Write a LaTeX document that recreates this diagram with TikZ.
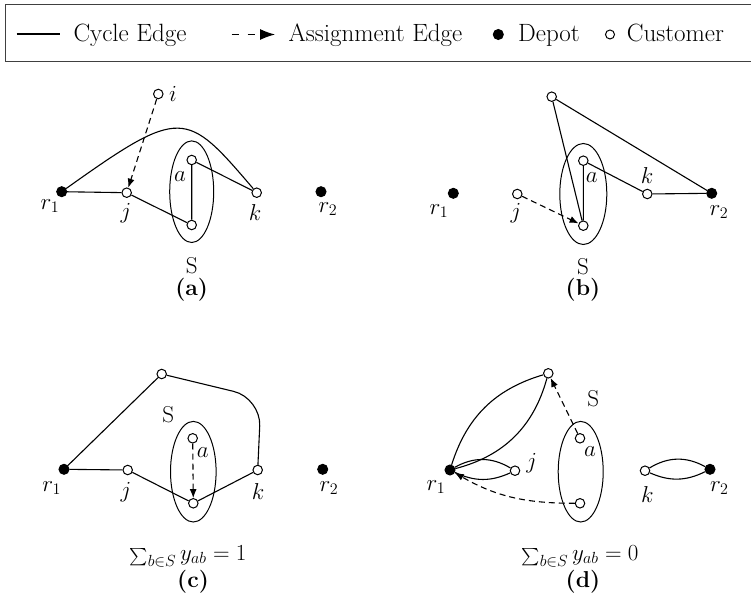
\documentclass[tikz,border=0pt]{standalone}
\usepackage{fix-cm}
\usepackage{amsmath}
\usetikzlibrary{arrows.meta,shapes.geometric}
\newcommand{\smallsum}{\mathop{\raisebox{-1.5pt}{\fontsize{19}{19}\selectfont$\sum$}}\nolimits}
\begin{document}
\begin{tikzpicture}[x=1pt,y=1pt,
  cust/.style={circle,draw,fill=white,line width=1pt,inner sep=0pt,minimum size=9.5pt},
  dep/.style={circle,draw,fill=black,line width=1pt,inner sep=0pt,minimum size=10pt},
  edge/.style={line width=1.1pt},
  asg/.style={line width=1.1pt,dash pattern=on 6pt off 4pt,-{Latex[length=9pt,width=7pt]}},
  grp/.style={ellipse,draw,line width=1pt,inner sep=0pt},
  lab/.style={font=\fontsize{23}{27}\selectfont,inner sep=0pt},
  captxt/.style={font=\fontsize{23}{27}\selectfont\bfseries,inner sep=0pt},
  leg/.style={font=\fontsize{25}{29}\selectfont,inner sep=0pt,anchor=base west},
]
\useasboundingbox (0,0) rectangle (751,605);
% ---------- legend ----------
\draw[line width=1pt,black!75] (5,543) rectangle (790,600);
\coordinate (l1a) at (16.7,571);
\coordinate (l1b) at (60,571);
\draw[edge] (l1a) -- (l1b);
\node[leg] (lt1) at (73.3,563.8) {Cycle Edge};
\coordinate (l2a) at (231.7,570.5);
\coordinate (l2b) at (275,570.5);
\draw[line width=1.1pt,dash pattern=on 7pt off 9pt,-{Latex[length=15pt,width=11pt]}] (l2a) -- (l2b);
\node[leg] (lt2) at (288.3,563.8) {Assignment Edge};
\node[dep,minimum size=10pt] (ldep) at (498.3,570.5) {};
\node[leg] (lt3) at (518,563.8) {Depot};
\node[cust,minimum size=9pt] (lcus) at (610,570.5) {};
\node[leg] (lt4) at (626.7,563.8) {Customer};

% ---------- panel (a) ----------
\node[grp,minimum width=44pt,minimum height=101.6pt] (Sa) at (191.7,413.3) {};
\node[dep] (ar1) at (61.7,413.3) {};
\node[cust] (aj) at (126.7,412.3) {};
\node[cust] (ai) at (158.3,511) {};
\node[cust] (aa) at (191.7,445) {};
\node[cust] (ab) at (191.7,380) {};
\node[cust] (ak) at (256.7,412.3) {};
\node[dep] (ar2) at (321,413.3) {};
\draw[edge] (ar1) -- (aj) -- (ab) -- (aa) -- (ak);
\draw[edge] (ar1) .. controls (182,499) and (186,495) .. (ak);
\draw[asg] (ai) -- (aj);
\node[lab] (lar1) at (50,399) {$r_1$};
\node[lab] (laj) at (126,392) {$j$};
\node[lab] (laa) at (180,428) {$a$};
\node[lab] (lak) at (255,392) {$k$};
\node[lab] (lar2) at (328,396) {$r_2$};
\node[lab] (lai) at (173,511) {$i$};
\node[lab] (laS) at (191.7,339) {S};
\node[captxt] (lacap) at (191.7,315) {(a)};

% ---------- panel (b) ----------
\node[grp,minimum width=47pt,minimum height=101pt] (Sb) at (583.3,411) {};
\node[dep] (br1) at (453.3,411.7) {};
\node[cust] (bj) at (517.3,411) {};
\node[cust] (bt) at (551.7,508.3) {};
\node[cust] (ba) at (583.3,444.3) {};
\node[cust] (bb) at (583.3,379.3) {};
\node[cust] (bk) at (647.3,411) {};
\node[dep] (br2) at (711.7,411.7) {};
\draw[edge] (bb) -- (bt) -- (br2) -- (bk) -- (ba) -- (bb);
\draw[asg] (bj) -- (bb);
\node[lab] (lbr1) at (439,394) {$r_1$};
\node[lab] (lbj) at (516,392) {$j$};
\node[lab] (lba) at (591.7,427) {$a$};
\node[lab] (lbk) at (647,429) {$k$};
\node[lab] (lbr2) at (719,393) {$r_2$};
\node[lab] (lbS) at (583,338) {S};
\node[captxt] (lbcap) at (583,315) {(b)};

% ---------- panel (c) ----------
\node[grp,minimum width=45.6pt,minimum height=100.6pt] (Sc) at (193.3,133.3) {};
\node[cust] (ct) at (161.7,231) {};
\node[dep] (cr1) at (64,135.7) {};
\node[cust] (cj) at (127.7,135) {};
\node[cust] (ca) at (192.7,166.7) {};
\node[cust] (cb) at (193.3,101.7) {};
\node[cust] (ck) at (257.7,135) {};
\node[dep] (cr2) at (322.7,135.7) {};
\coordinate (cc) at (261,207);
\draw[edge] (cr1) -- (cj) -- (cb) -- (ck);
\draw[edge] (cr1) -- (ct);
\draw[edge,rounded corners=28pt] (ct) -- (cc) -- (ck);
\draw[asg] (ca) -- (cb);
\node[lab] (lcr1) at (51.7,117) {$r_1$};
\node[lab] (lcj) at (126,113) {$j$};
\node[lab] (lca) at (202.7,152) {$a$};
\node[lab] (lck) at (258,113) {$k$};
\node[lab] (lcr2) at (329,117) {$r_2$};
\node[lab] (lcS) at (168.3,190) {S};
\node[lab] (lcf) at (188,49) {$\smallsum_{b\in S} y_{ab}=1$};
\node[captxt] (lccap) at (193,23) {(c)};

% ---------- panel (d) ----------
\node[grp,minimum width=45pt,minimum height=100.6pt] (Sd) at (580.7,133.3) {};
\node[cust] (dt) at (548.3,231.7) {};
\node[dep] (dr1) at (450,135) {};
\node[cust] (dj) at (515,134.3) {};
\node[cust] (da) at (580,166.7) {};
\node[cust] (db) at (580,101.7) {};
\node[cust] (dk) at (645,134.3) {};
\node[dep] (dr2) at (710,135.7) {};
\draw[edge] (dr1) to[bend left=28] (dt);
\draw[edge] (dr1) to[bend right=30] (dt);
\draw[edge] (dr1) to[bend left=30] (dj);
\draw[edge] (dr1) to[bend right=25] (dj);
\draw[edge] (dk) to[bend left=30] (dr2);
\draw[edge] (dk) to[bend right=25] (dr2);
\draw[asg] (da) -- (dt);
\draw[asg] (db) to[out=180,in=-30] (dr1);
\node[lab] (ldr1) at (436,118) {$r_1$};
\node[lab] (ldj) at (531.7,142) {$j$};
\node[lab] (lda) at (590,153) {$a$};
\node[lab] (ldk) at (647.3,110) {$k$};
\node[lab] (ldr2) at (719.3,117) {$r_2$};
\node[lab] (ldS) at (593.3,206.7) {S};
\node[lab] (ldf) at (580,49) {$\smallsum_{b\in S} y_{ab}=0$};
\node[captxt] (ldcap) at (583,23) {(d)};
\end{tikzpicture}
\end{document}
